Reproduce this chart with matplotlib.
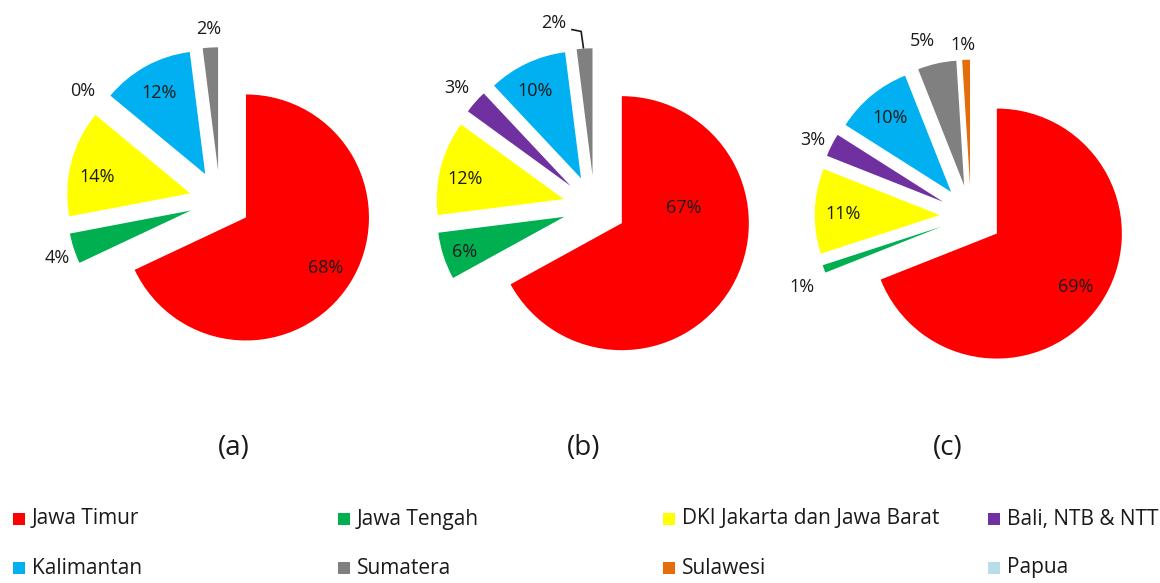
import numpy as np
import matplotlib
matplotlib.use("Agg")
import matplotlib.pyplot as plt
from matplotlib.patches import Rectangle

plt.rcParams['font.family'] = ['Open Sans', 'DejaVu Sans']

# ---------------- data ----------------
categories = ['Jawa Timur', 'Jawa Tengah', 'DKI Jakarta dan Jawa Barat', 'Bali, NTB & NTT',
              'Kalimantan', 'Sumatera', 'Sulawesi', 'Papua']
colors = ['#FF0000', '#00B050', '#FFFF00', '#7030A0', '#00B0F0', '#808080', '#E46C0A', '#B7DEE8']

values_a = [68, 4, 14, 0, 12, 2, 0, 0]
values_b = [67, 6, 12, 3, 10, 2, 0, 0]
values_c = [69, 1, 11, 3, 10, 5, 1, 0]
show_a = [1, 1, 1, 1, 1, 1, 0, 0]
show_b = [1, 1, 1, 1, 1, 1, 0, 0]
show_c = [1, 1, 1, 1, 1, 1, 1, 0]
panel_titles = ['(a)', '(b)', '(c)']

# ---------------- layout / style ----------------
W, H = 1160, 583
fig = plt.figure(figsize=(W / 100, H / 100), dpi=100)
ax = fig.add_axes([0, 0, 1, 1])

centers_px = [(220, 201), (594.5, 207), (971, 216)]
radii = [123, 127, 125]
explode_frac = 0.25
# per-slice label (radial distance in radii, angular offset in degrees)
label_style = [
    [(1.02, 0), (1.40, 1.4), (1.02, 3.4), (1.43, 0.8), (1.01, 0.4), (1.40, 0), (0, 0), (0, 0)],
    [(0.70, 30), (1.08, 1.2), (1.04, 2.2), (1.43, 0.5), (1.03, 2.0), (1.48, 8.8), (0, 0), (0, 0)],
    [(1.01, 0), (1.47, 3.0), (1.02, 0.8), (1.40, 1.3), (1.02, 0), (1.45, 3.0), (1.37, 0.9), (0, 0)],
]
title_x = [234, 584, 948]
title_y = 448
txt_color = '#1a1a1a'

all_vals = [values_a, values_b, values_c]
all_show = [show_a, show_b, show_c]

for k, (vals, show) in enumerate(zip(all_vals, all_show)):
    cx, cy = centers_px[k]
    R = radii[k]
    center = (cx, H - cy)
    ex = [explode_frac * R] * len(vals)
    wedges, _ = ax.pie(vals, colors=colors, startangle=90, counterclock=False,
                       radius=R, center=center, explode=ex,
                       wedgeprops=dict(linewidth=0, edgecolor='none'))
    total = float(sum(vals))
    theta = 90.0
    for i, v in enumerate(vals):
        span = 360.0 * v / total
        mid = theta - span / 2
        theta -= span
        if not show[i]:
            continue
        rho, dth = label_style[k][i]
        ang = np.deg2rad(mid + dth)
        tx = center[0] + rho * R * np.cos(ang)
        ty = center[1] + rho * R * np.sin(ang)
        ax.text(tx, ty, f"{v}%", ha='center', va='center', fontsize=13, color=txt_color)
        # leader line for panel (b) Sumatera label
        if k == 1 and i == 5:
            ma = np.deg2rad(mid)
            ex_pt = (center[0] + (R + explode_frac * R) * np.cos(ma),
                     center[1] + (R + explode_frac * R) * np.sin(ma))
            ax.plot([tx + 17, tx + 27, ex_pt[0] - 1], [ty - 6, ty - 8, ex_pt[1]],
                    color='#1a1a1a', lw=1.2, solid_capstyle='butt')
    ax.text(title_x[k], H - title_y, panel_titles[k], ha='center', va='center',
            fontsize=20, color=txt_color)

# ---------------- legend ----------------
leg_x0 = 13
leg_dx = 325
leg_rows_y = [519, 568]
for i, (cat, col) in enumerate(zip(categories, colors)):
    r, c = divmod(i, 4)
    x = leg_x0 + c * leg_dx
    y = H - leg_rows_y[r]
    ax.add_patch(Rectangle((x, y - 6), 12, 12, facecolor=col, edgecolor='none'))
    ax.text(x + 19, y, cat, ha='left', va='center', fontsize=15, color=txt_color)

ax.set_xlim(0, W)
ax.set_ylim(0, H)
ax.set_aspect('auto')
ax.axis('off')
fig.savefig('out.png', dpi=100)
